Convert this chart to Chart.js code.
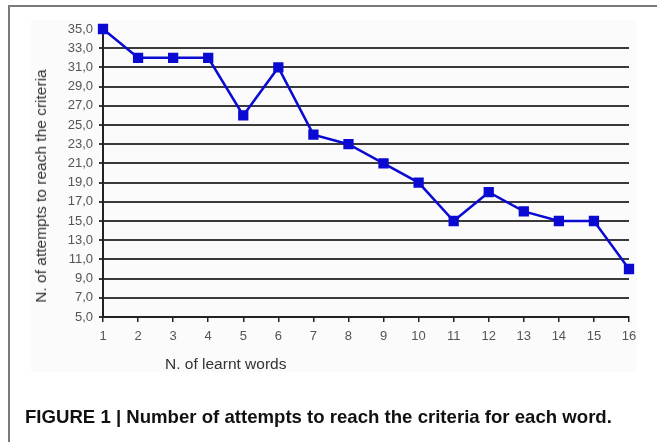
<!DOCTYPE html>
<html>
<head>
<meta charset="utf-8">
<script src="https://cdn.jsdelivr.net/npm/chart.js@4/dist/chart.umd.min.js"></script>
<style>
  html, body { margin: 0; padding: 0; background: #fff; }
  #wrap { position: relative; width: 657px; height: 442px; overflow: hidden; font-family: "Liberation Sans", Arial, sans-serif; }
  #frame { position: absolute; left: 8px; top: 5px; width: 720px; height: 500px; border: 2px solid #7a7a7a; box-sizing: border-box; }
  #plotbg { position: absolute; left: 31px; top: 20px; width: 606px; height: 352px; background: #fbfbfb; }
  #c { position: absolute; left: 0; top: 0; }
  .title { position: absolute; color: #333; font-size: 15.5px; white-space: nowrap; }
  #xt { left: 165px; top: 355px; }
  #yt { left: 41px; top: 186px; transform: translate(-50%, -50%) rotate(-90deg); }
  #cap { position: absolute; left: 25px; top: 406px; font-weight: bold; font-size: 18.6px; color: #111; white-space: nowrap; }
</style>
</head>
<body>
<div id="wrap">
  <div id="frame"></div>
  <div id="plotbg"></div>
  <canvas id="c" width="657" height="442"></canvas>
  <div class="title" id="xt">N. of learnt words</div>
  <div class="title" id="yt">N. of attempts to reach the criteria</div>
  <div id="cap">FIGURE 1 | Number of attempts to reach the criteria for each word.</div>
</div>
<script>
const words = ['1','2','3','4','5','6','7','8','9','10','11','12','13','14','15','16'];
const attempts = [35, 32, 32, 32, 26, 31, 24, 23, 21, 19, 15, 18, 16, 15, 15, 10];
const yMin = 5, yMax = 35, yStep = 2;

new Chart(document.getElementById('c'), {
  type: 'line',
  data: {
    labels: words,
    datasets: [{
      data: attempts,
      borderColor: '#0a0ad2',
      backgroundColor: '#0a0ad2',
      borderWidth: 2.5,
      pointStyle: 'rect',
      pointRadius: 5.5,
      pointHoverRadius: 5.5,
      tension: 0,
      clip: false
    }]
  },
  options: {
    responsive: false,
    animation: false,
    events: [],
    layout: { padding: { left: 0, right: 28, top: 29, bottom: 0 } },
    plugins: { legend: { display: false }, tooltip: { enabled: false } },
    scales: {
      x: {
        type: 'category',
        offset: false,
        afterFit: s => { s.height = 125; },
        grid: { display: true, drawOnChartArea: false, drawTicks: true, tickLength: 5, color: '#222', lineWidth: 1.5 },
        border: { display: true, color: '#222', width: 2 },
        ticks: { color: '#555', font: { family: 'Liberation Sans', size: 13 }, padding: 7, maxRotation: 0, autoSkip: false }
      },
      y: {
        min: yMin, max: yMax,
        afterFit: s => { s.width = 103; },
        grid: {
          drawTicks: true, tickLength: 4,
          color: ctx => (ctx.tick && ctx.tick.value === yMax) ? 'rgba(0,0,0,0)' : '#3a3a3a',
          lineWidth: 2
        },
        border: { display: true, color: '#222', width: 2 },
        ticks: {
          stepSize: yStep,
          color: '#555',
          font: { family: 'Liberation Sans', size: 13 },
          padding: 6,
          callback: v => v.toFixed(1).replace('.', ',')
        }
      }
    }
  }
});
</script>
</body>
</html>
